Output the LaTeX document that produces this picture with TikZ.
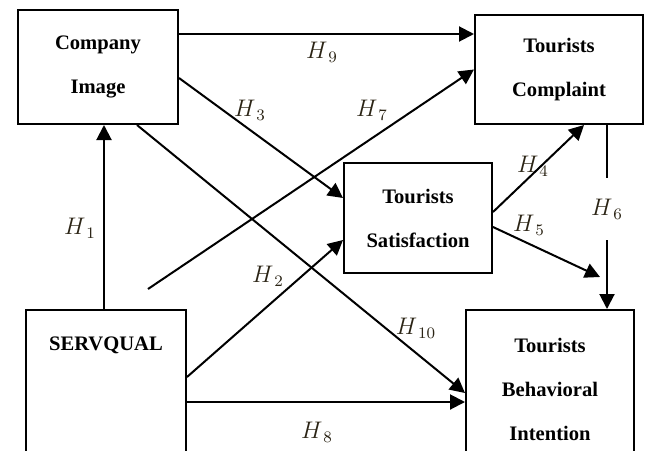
\documentclass[tikz,border=0pt]{standalone}
\usepackage{fontspec}
\setmainfont{Liberation Serif}
\usetikzlibrary{arrows.meta, positioning, calc}
\definecolor{hInk}{HTML}{2B2415}
\tikzset{
  boxfont/.style = {font=\bfseries\fontsize{10.3}{22}\selectfont},
  box/.style     = {draw, rectangle, line width=1pt, align=center, inner sep=0pt, boxfont},
  conn/.style    = {line width=1pt, black},
  arr/.style     = {conn, -{Triangle[length=7.5pt, width=7.5pt]}},
  hlbl/.style    = {font=\fontsize{12}{14}\selectfont, hInk, inner sep=1pt},
}

\begin{document}
\begin{tikzpicture}[x=0.5pt, y=-0.5pt]
  \clip (0,0) rectangle (648,450);

  % constructs
  \node[box, minimum width=80pt, minimum height=57pt]   (ci) at (98,67)    {Company\\Image};
  \node[box, minimum width=84pt, minimum height=54.5pt] (cp) at (559,69.5) {Tourists\\Complaint};
  \node[box, minimum width=74pt, minimum height=55pt]   (cs) at (418,218)  {Tourists\\Satisfaction};
  \node[box, minimum width=80pt, minimum height=79pt,
        label={[boxfont, anchor=center, yshift=-18pt]north:SERVQUAL}] (sq) at (106,389) {};
  \node[box, minimum width=84pt, minimum height=79pt]   (bi) at (550,389)  {Tourists\\Behavioral\\Intention};

  % hypotheses
  \coordinate (h7start) at (148,289);
  \coordinate (h5end)   at (600,277);
  \node[hlbl, minimum height=31pt] (h6) at (607,209) {$H_{\,6}$};

  \draw[arr] ([yshift=16.5pt]ci.east) -- ([yshift=16.5pt]ci.east -| cp.west);
  \draw[arr] ([yshift=-5.5pt]ci.east) -- ([yshift=10pt]cs.west);
  \draw[arr] ([xshift=19.5pt]ci.south) -- ([yshift=-2pt]bi.west);
  \draw[arr] (h7start) -- (cp.west);
  \draw[arr] ([xshift=-1pt]sq.north) -- ([xshift=-1pt]sq.north |- ci.south);
  \draw[arr] ([yshift=6pt]sq.east) -- ([yshift=-11pt]cs.west);
  \draw[arr] ([yshift=-6.5pt]sq.east) -- ([yshift=-6.5pt]sq.east -| bi.west);
  \draw[arr] ([yshift=3pt]cs.east) -- ([xshift=12.5pt]cp.south);
  \draw[arr] ([yshift=-4.5pt]cs.east) -- (h5end);
  \draw[conn] ([xshift=24pt]cp.south) -- (h6.north);
  \draw[arr] (h6.south) -- (h6.south |- bi.north);

  \node[hlbl] (h1)  at (80,228)  {$H_{\,1}$};
  \node[hlbl] (h2)  at (268,276) {$H_{\,2}$};
  \node[hlbl] (h3)  at (250,110) {$H_{\,3}$};
  \node[hlbl] (h4)  at (533,166) {$H_{\,4}$};
  \node[hlbl] (h5)  at (529,225) {$H_{\,5}$};
  \node[hlbl] (h7)  at (372,110) {$H_{\,7}$};
  \node[hlbl] (h8)  at (317,432) {$H_{\,8}$};
  \node[hlbl] (h9)  at (322,52)  {$H_{\,9}$};
  \node[hlbl] (h10) at (416,328) {$H_{\,10}$};
\end{tikzpicture}
\end{document}
